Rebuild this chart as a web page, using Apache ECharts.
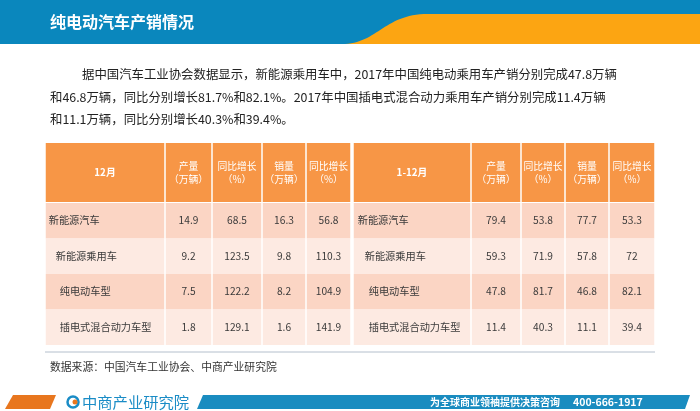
<!DOCTYPE html>
<html><head><meta charset="utf-8">
<script src="https://cdn.jsdelivr.net/npm/echarts@6/dist/echarts.min.js"></script>
<style>html,body{margin:0;padding:0;background:#fff}#c{width:700px;height:411px}</style>
</head><body><div id="c"></div>
<script>
// ---- data ----
const pageTitle = '纯电动汽车产销情况';
const paragraph = [
  '据中国汽车工业协会数据显示，新能源乘用车中，2017年中国纯电动乘用车产销分别完成47.8万辆',
  '和46.8万辆，同比分别增长81.7%和82.1%。2017年中国插电式混合动力乘用车产销分别完成11.4万辆',
  '和11.1万辆，同比分别增长40.3%和39.4%。'
];
const periods = ['12月', '1-12月'];
const metricHeaders = ['产量\n（万辆）', '同比增长\n（%）', '销量\n（万辆）', '同比增长\n（%）'];
const categories = ['新能源汽车', '新能源乘用车', '纯电动车型', '插电式混合动力车型'];
const decOutput = [14.9, 9.2, 7.5, 1.8];
const decOutputYoY = [68.5, 123.5, 122.2, 129.1];
const decSales = [16.3, 9.8, 8.2, 1.6];
const decSalesYoY = [56.8, 110.3, 104.9, 141.9];
const ytdOutput = [79.4, 59.3, 47.8, 11.4];
const ytdOutputYoY = [53.8, 71.9, 81.7, 40.3];
const ytdSales = [77.7, 57.8, 46.8, 11.1];
const ytdSalesYoY = [53.3, 72, 82.1, 39.4];
const sourceText = '数据来源：中国汽车工业协会、中商产业研究院';
const brandName = '中商产业研究院';
const slogan = '为全球商业领袖提供决策咨询';
const hotline = '400-666-1917';

// ---- layout / style ----
const colSpans = [[0,120],[120,167],[167,217],[217,261],[261,306],[308,426],[426,476],[476,520],[520,564],[564,610]];
const indent = [3, 10, 14, 14];
const rowFills = ['#fbd5c4', '#fdeae2'];
const FONT = '"Noto Sans CJK SC", "Noto Sans", sans-serif';

const decCols = [decOutput, decOutputYoY, decSales, decSalesYoY];
const ytdCols = [ytdOutput, ytdOutputYoY, ytdSales, ytdSalesYoY];

const headerData = [];
for (let c = 0; c < 10; c++) {
  let t;
  if (c === 0) t = periods[0];
  else if (c === 5) t = periods[1];
  else t = metricHeaders[(c % 5) - 1];
  headerData.push([c, 0, t]);
}
const bodyData = [];
categories.forEach((cat, r) => {
  bodyData.push([0, r, cat]);
  decCols.forEach((arr, k) => bodyData.push([k + 1, r, String(arr[r])]));
  bodyData.push([5, r, cat]);
  ytdCols.forEach((arr, k) => bodyData.push([k + 6, r, String(arr[r])]));
});

function cellRenderer(isHeader) {
  return function (params, api) {
    const c = api.value(0), r = api.value(1);
    const txt = isHeader ? headerData[params.dataIndex][2] : bodyData[params.dataIndex][2];
    const p0 = api.coord([colSpans[c][0], r]);
    const p1 = api.coord([colSpans[c][1], r]);
    const h = api.size([0, 1])[1];
    const x0 = p0[0] + 0.75, w = p1[0] - p0[0] - 1.5;
    const y0 = p0[1] - h / 2;
    const isLabel = (c === 0 || c === 5);
    let tx, align;
    if (isHeader || !isLabel) { tx = x0 + w / 2; align = 'center'; }
    else { tx = x0 + indent[r] + (c === 5 ? 1 : 0); align = 'left'; }
    return {
      type: 'group',
      children: [
        { type: 'rect', shape: { x: x0, y: y0, width: w, height: h },
          style: { fill: isHeader ? '#f79646' : rowFills[r % 2] } },
        { type: 'text', x: tx, y: p0[1] + (isHeader ? 0 : -0.5),
          style: { text: txt, fill: isHeader ? '#ffffff' : '#3a3a3a',
            font: (isHeader && isLabel ? 'bold ' : '') + (isHeader ? '9.8px ' : '10.2px ') + FONT,
            align: align, verticalAlign: 'middle', lineHeight: 13 } }
      ]
    };
  };
}

// swoosh outline (decoration)
function bez(p0, p1, p2, p3, t) {
  const u = 1 - t;
  return [u*u*u*p0[0] + 3*u*u*t*p1[0] + 3*u*t*t*p2[0] + t*t*t*p3[0],
          u*u*u*p0[1] + 3*u*u*t*p1[1] + 3*u*t*t*p2[1] + t*t*t*p3[1]];
}
const swoosh = [];
for (let i = 0; i <= 30; i++) swoosh.push(bez([345, 44], [378, 42], [385, 14], [428, 14], i / 30));
swoosh.push([700, 14], [700, 44]);

const chart = echarts.init(document.getElementById('c'), null, { renderer: 'canvas' });
chart.setOption({
  animation: false,
  grid: [
    { left: 45, width: 610, top: 143, height: 59 },
    { left: 45, width: 610, top: 203, height: 142 }
  ],
  xAxis: [
    { type: 'value', gridIndex: 0, min: 0, max: 610, show: false },
    { type: 'value', gridIndex: 1, min: 0, max: 610, show: false }
  ],
  yAxis: [
    { type: 'category', gridIndex: 0, data: ['header'], inverse: true, show: false },
    { type: 'category', gridIndex: 1, data: categories, inverse: true, show: false }
  ],
  series: [
    { type: 'custom', xAxisIndex: 0, yAxisIndex: 0, data: headerData.map(d => [d[0], d[1]]),
      renderItem: cellRenderer(true), silent: true },
    { type: 'custom', xAxisIndex: 1, yAxisIndex: 1, data: bodyData.map(d => [d[0], d[1]]),
      renderItem: cellRenderer(false), silent: true }
  ],
  graphic: [
    { type: 'rect', shape: { x: 0, y: 0, width: 700, height: 44 }, style: { fill: '#0a87bd' } },
    { type: 'polygon', shape: { points: swoosh }, style: { fill: '#fca512' } },
    { type: 'text', x: 50, y: 22, style: { text: pageTitle, fill: '#fff',
      font: 'bold 16px ' + FONT, verticalAlign: 'middle' } },
    { type: 'text', x: 82, y: 74, style: { text: paragraph[0], fill: '#222', font: '12.4px ' + FONT, verticalAlign: 'middle' } },
    { type: 'text', x: 50, y: 97, style: { text: paragraph[1], fill: '#222', font: '12.4px ' + FONT, verticalAlign: 'middle' } },
    { type: 'text', x: 50, y: 119, style: { text: paragraph[2], fill: '#222', font: '12.4px ' + FONT, verticalAlign: 'middle' } },
    { type: 'line', shape: { x1: 45, y1: 352, x2: 655, y2: 352 }, style: { stroke: '#b4bfcc', lineWidth: 1 } },
    { type: 'text', x: 50, y: 367, style: { text: sourceText, fill: '#333', font: '10.8px ' + FONT, verticalAlign: 'middle' } },
    { type: 'polygon', shape: { points: [[5, 409], [13, 395], [56, 395], [50, 409]] }, style: { fill: '#e8761e' } },
    { type: 'circle', shape: { cx: 73, cy: 402, r: 5.5 }, style: { fill: 'none', stroke: '#1a8cc6', lineWidth: 2.5 } },
    { type: 'circle', shape: { cx: 75, cy: 402, r: 2.5 }, style: { fill: '#e8761e' } },
    { type: 'text', x: 82, y: 402, style: { text: brandName, fill: '#1a8cc6', font: '15.3px ' + FONT, verticalAlign: 'middle' } },
    { type: 'polygon', shape: { points: [[197, 409], [203, 395], [690, 395], [685, 409]] }, style: { fill: '#1a8cc0' } },
    { type: 'text', x: 430, y: 402, style: { text: slogan, fill: '#fff', font: 'bold 10px ' + FONT, verticalAlign: 'middle' } },
    { type: 'text', x: 573, y: 402, style: { text: hotline, fill: '#fff', font: 'bold 10.5px ' + FONT, verticalAlign: 'middle' } }
  ]
});
</script></body></html>
